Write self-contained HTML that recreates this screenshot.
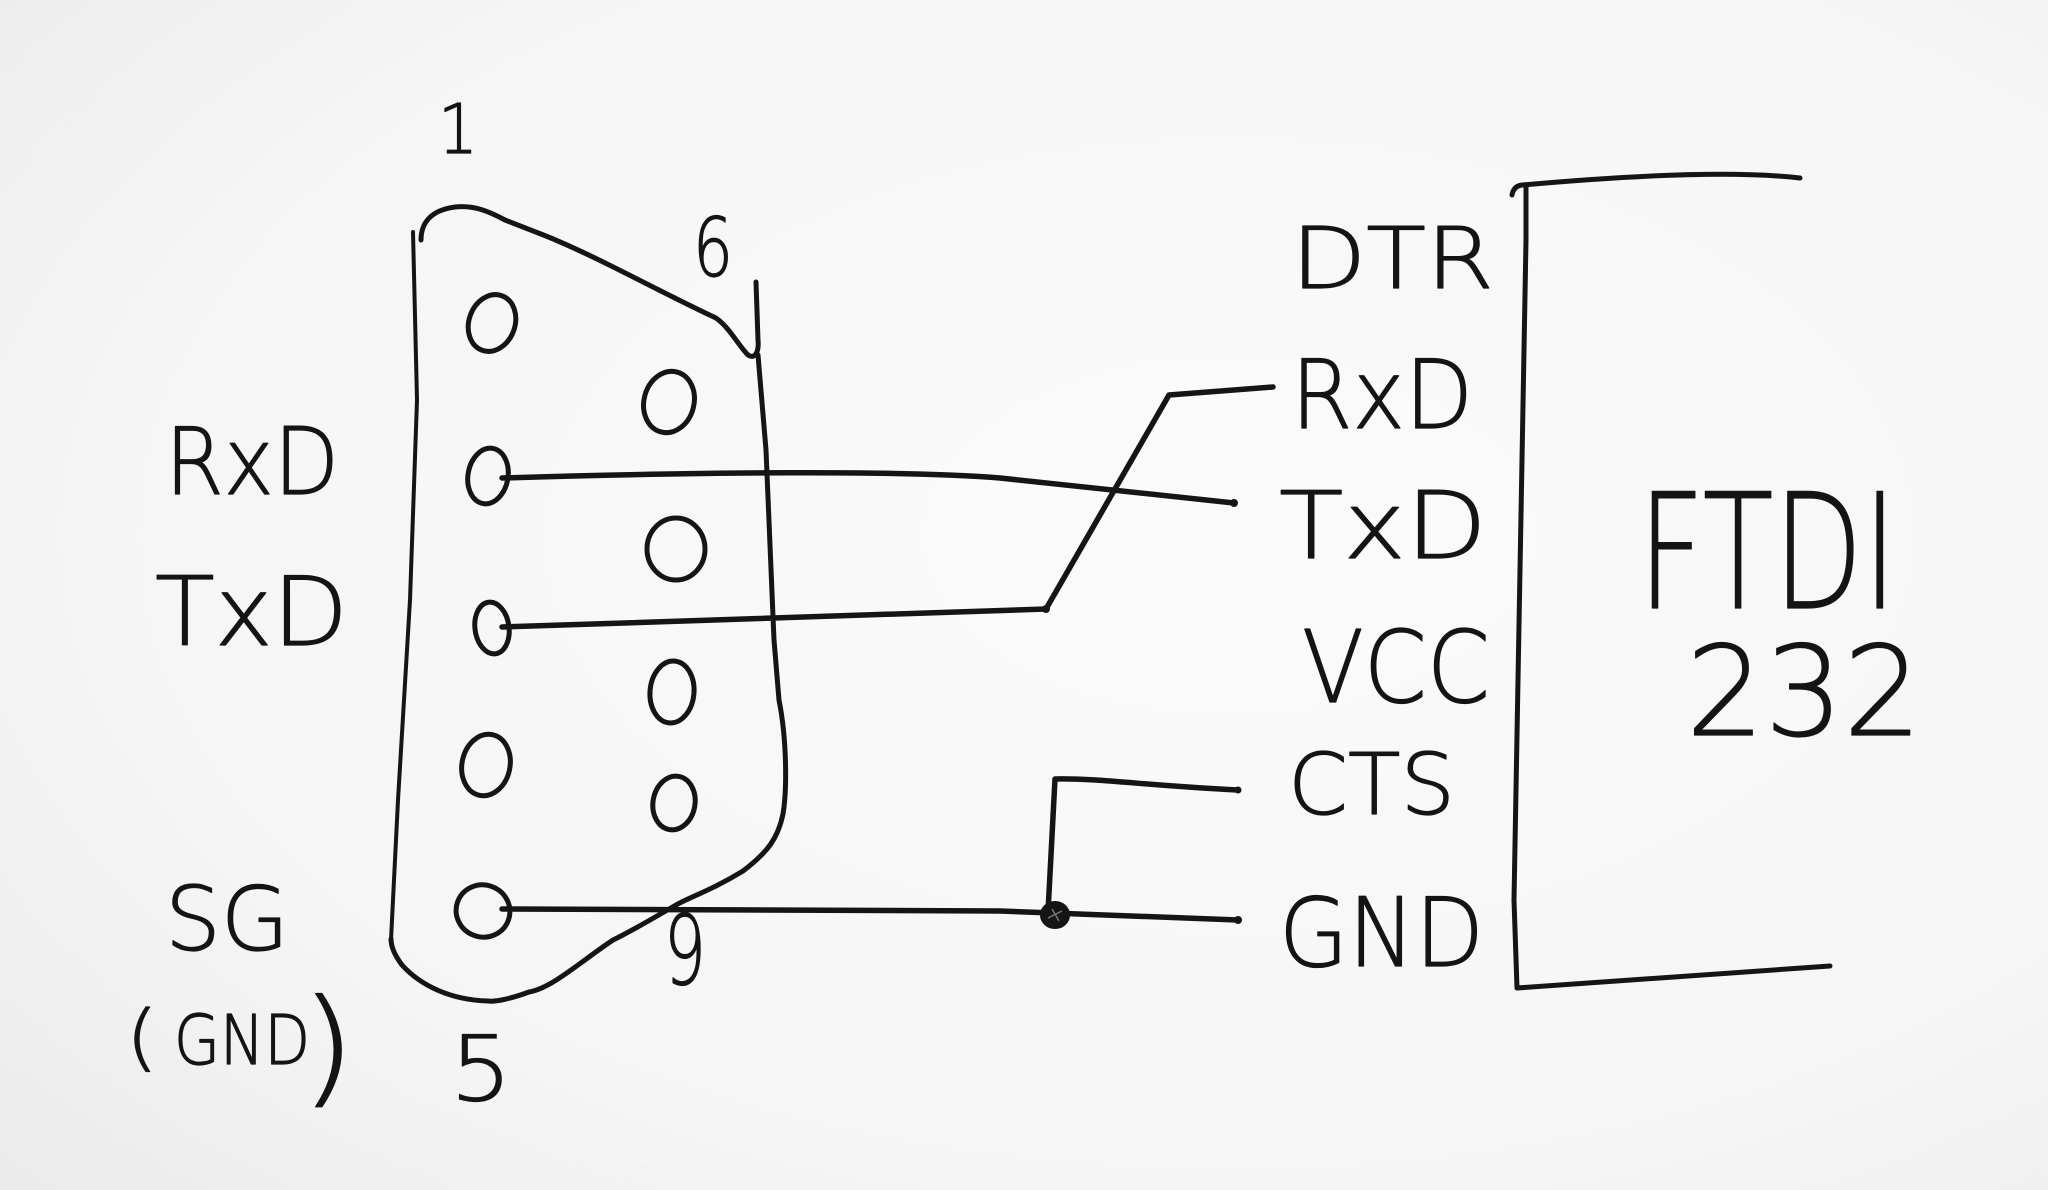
<!DOCTYPE html>
<html><head><meta charset="utf-8"><style>
html,body{margin:0;padding:0;width:2048px;height:1190px;overflow:hidden;background:#f6f6f6;}
svg{display:block}
text{font-family:"DejaVu Sans ExtraLight","DejaVu Sans Light","DejaVu Sans","Liberation Sans",sans-serif;font-weight:200;fill:#141414;stroke:#141414;stroke-width:1.2;stroke-linejoin:round}
</style></head><body>
<svg width="2048" height="1190" viewBox="0 0 2048 1190" xmlns="http://www.w3.org/2000/svg">
<defs>
<radialGradient id="bg" cx="0.6" cy="0.45" r="0.8">
<stop offset="0" stop-color="#fbfbfb"/>
<stop offset="0.7" stop-color="#f5f5f5"/>
<stop offset="1" stop-color="#ebebeb"/>
</radialGradient>
</defs>
<rect width="2048" height="1190" fill="url(#bg)"/>

<g fill="none" stroke="#151515" stroke-width="5" stroke-linecap="round" stroke-linejoin="round">
<!-- connector outline -->
<path d="M421,240 C421,222 432,210 455,207 C475,205 490,212 505,220 L546,236 C600,258 660,292 716,318 C730,328 738,345 748,355 C756,360 759,350 758,340 L756,282"/>
<path d="M758,355 L766,450 L774,640 L779,700 C787,740 787,790 783,814 C778,838 768,852 743,871 C712,890 690,897 676,905 C650,920 630,932 613,940 C580,962 552,988 529,992 C510,999 495,1002 488,1001 C450,1000 420,985 402,965 C393,953 391,945 391,939"/>
<path d="M413,232 L417,400 L410,600 L398,800 L391,940" stroke-width="4"/>
<!-- pins -->
<ellipse cx="492" cy="323" rx="23" ry="29" transform="rotate(20 492 323)"/>
<ellipse cx="669" cy="402" rx="25" ry="31" transform="rotate(15 669 402)"/>
<ellipse cx="488" cy="476" rx="20" ry="28" transform="rotate(10 488 476)"/>
<ellipse cx="676" cy="549" rx="29" ry="31"/>
<ellipse cx="492" cy="628" rx="17" ry="26" transform="rotate(-8 492 628)"/>
<ellipse cx="672" cy="692" rx="22" ry="31" transform="rotate(5 672 692)"/>
<ellipse cx="486" cy="765" rx="24" ry="31" transform="rotate(12 486 765)"/>
<ellipse cx="674" cy="803" rx="21" ry="27" transform="rotate(10 674 803)"/>
<ellipse cx="483" cy="911" rx="27" ry="26" transform="rotate(20 483 911)"/>
<!-- wires -->
<path d="M502,478 C700,472 900,470 1000,478 L1234,503" stroke-width="5.5"/>
<path d="M502,627 L1046,609 L1169,395 L1273,387" stroke-width="5.5"/>
<path d="M502,909 L1000,911 L1238,920" stroke-width="5.5"/>
<path d="M1238,790 C1150,786 1100,778 1055,779 L1048,912" stroke-width="5.5"/>
<!-- FTDI box -->
<path d="M1800,178 Q1713,168 1523,185" stroke-width="5"/>
<path d="M1512,195 Q1514,184 1526,185 L1526,240 L1514,900 L1517,988 L1830,966" stroke-width="5"/>
</g>
<ellipse cx="1055" cy="915" rx="13" ry="12" fill="#151515" stroke="#151515" stroke-width="4"/>
<path d="M1048,918 L1062,911 M1052,909 L1059,921" stroke="#777" stroke-width="1.5"/>
<circle cx="1234" cy="503" r="4" fill="#151515"/>
<circle cx="1046" cy="609" r="4" fill="#151515"/>
<circle cx="1238" cy="920" r="4" fill="#151515"/>
<circle cx="1238" cy="790" r="3.5" fill="#151515"/>

<!-- left labels -->
<text x="438" y="153" font-size="69" textLength="40" lengthAdjust="spacingAndGlyphs">1</text>
<text x="693" y="276" font-size="81" textLength="40" lengthAdjust="spacingAndGlyphs">6</text>
<text x="664" y="984" font-size="96" textLength="42" lengthAdjust="spacingAndGlyphs">9</text>
<text x="450" y="1100" font-size="90" textLength="62" lengthAdjust="spacingAndGlyphs">5</text>
<text x="165" y="494" font-size="93" textLength="174" lengthAdjust="spacingAndGlyphs">RxD</text>
<text x="155" y="645" font-size="95" textLength="193" lengthAdjust="spacingAndGlyphs">TxD</text>
<text x="165" y="950" font-size="88" textLength="124" lengthAdjust="spacingAndGlyphs">SG</text>
<text x="126" y="1062" font-size="72" textLength="32" lengthAdjust="spacingAndGlyphs">(</text>
<text x="174" y="1064" font-size="69" textLength="136" lengthAdjust="spacingAndGlyphs">GND</text>
<text x="300" y="1090" font-size="127" textLength="56" lengthAdjust="spacingAndGlyphs">)</text>

<!-- right labels -->
<text x="1291" y="288" font-size="85" textLength="203" lengthAdjust="spacingAndGlyphs">DTR</text>
<text x="1291" y="428" font-size="95" textLength="182" lengthAdjust="spacingAndGlyphs">RxD</text>
<text x="1279" y="558" font-size="93" textLength="208" lengthAdjust="spacingAndGlyphs">TxD</text>
<text x="1302" y="702" font-size="100" textLength="188" lengthAdjust="spacingAndGlyphs">VCC</text>
<text x="1288" y="814" font-size="85" textLength="167" lengthAdjust="spacingAndGlyphs">CTS</text>
<text x="1279" y="966" font-size="95" textLength="205" lengthAdjust="spacingAndGlyphs">GND</text>
<text x="1638" y="608" font-size="160" textLength="259" lengthAdjust="spacingAndGlyphs">FTDI</text>
<text x="1686" y="735" font-size="125" textLength="236" lengthAdjust="spacingAndGlyphs">232</text>
</svg>
</body></html>
